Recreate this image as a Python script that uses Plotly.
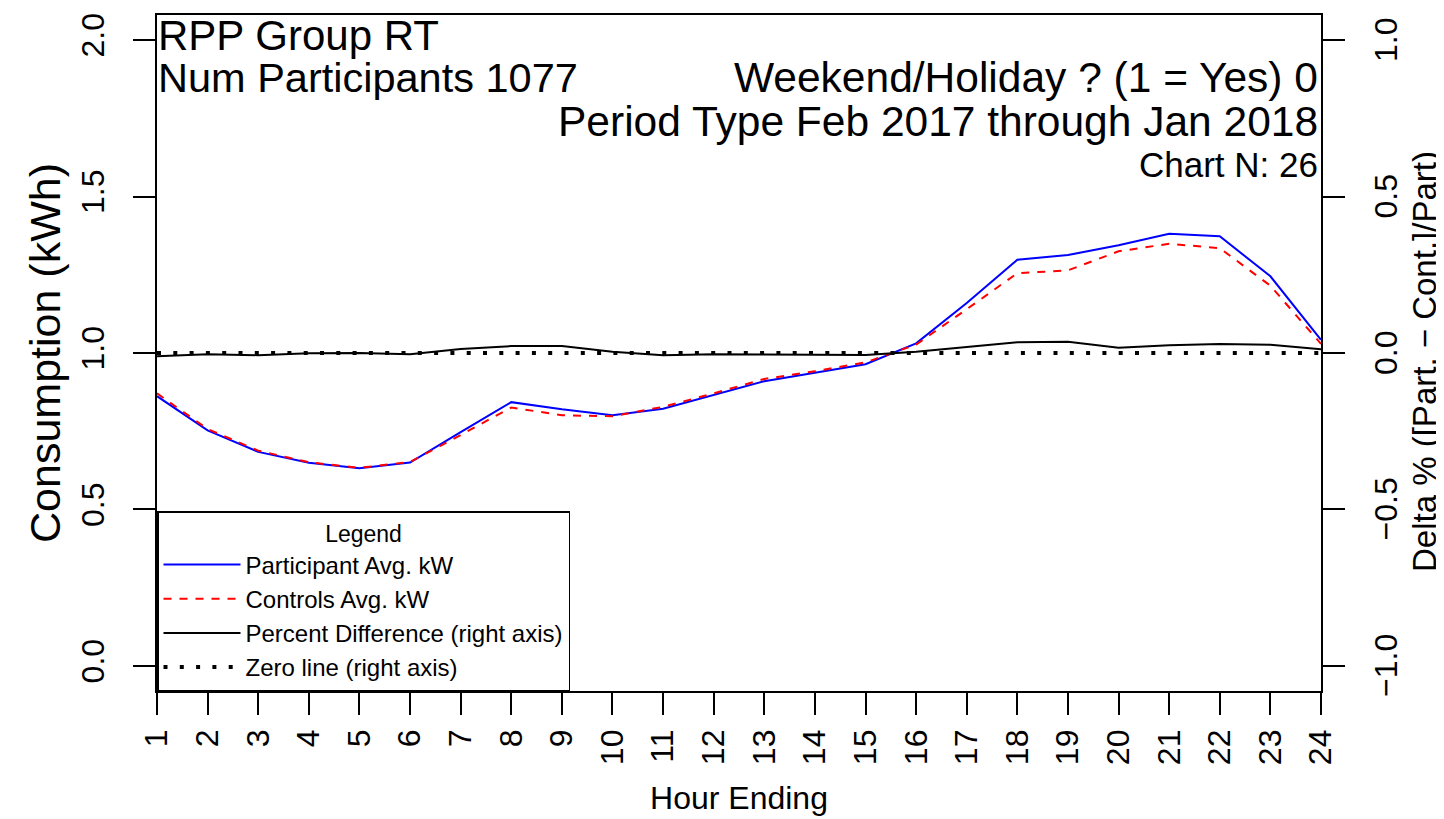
import plotly.graph_objects as go

# --- data ---
hours = list(range(1, 25))
participant_kw = [0.862, 0.753, 0.684, 0.649, 0.632, 0.650, 0.747, 0.843, 0.820, 0.801, 0.822, 0.865,
                  0.910, 0.937, 0.964, 1.031, 1.160, 1.298, 1.313, 1.344, 1.381, 1.373, 1.245, 1.042]
controls_kw = [0.871, 0.757, 0.688, 0.651, 0.633, 0.652, 0.738, 0.826, 0.801, 0.798, 0.828, 0.871,
               0.917, 0.942, 0.970, 1.027, 1.140, 1.255, 1.264, 1.325, 1.349, 1.335, 1.215, 1.029]
pct_diff = [-0.010, -0.004, -0.007, -0.001, 0.000, -0.004, 0.013, 0.022, 0.022, 0.004, -0.007, -0.004,
            -0.005, -0.005, -0.006, 0.004, 0.020, 0.034, 0.036, 0.017, 0.025, 0.029, 0.026, 0.012]
zero_line = [0.0] * len(hours)

left_ticks = [0.0, 0.5, 1.0, 1.5, 2.0]
right_ticks = [-1.0, -0.5, 0.0, 0.5, 1.0]

# page geometry (pixels); the page body adds an 8px margin around the figure
OFF = 8
PAGE_W, PAGE_H = 1444, 819
L, R, T, B = 157, 1321, 15, 691
W, H = PAGE_W - OFF, PAGE_H - OFF
FONT = "Liberation Sans, Arial, Helvetica, sans-serif"


def py(p):
    return (B - p) / (B - T)


def px_(p):
    return (p - L) / (R - L)


fig = go.Figure()
fig.add_trace(go.Scatter(x=hours, y=participant_kw, mode="lines", name="Participant Avg. kW",
                         line=dict(color="#0000ff", width=2)))
fig.add_trace(go.Scatter(x=hours, y=controls_kw, mode="lines", name="Controls Avg. kW",
                         line=dict(color="#ff0000", width=2, dash="8px,8px")))
fig.add_trace(go.Scatter(x=hours, y=pct_diff, mode="lines", name="Percent Difference (right axis)",
                         yaxis="y2", line=dict(color="black", width=2)))
fig.add_trace(go.Scatter(x=hours, y=zero_line, mode="lines", name="Zero line (right axis)",
                         yaxis="y2", line=dict(color="black", width=4, dash="4px,12.3px")))

axis_common = dict(showline=True, linecolor="black", linewidth=1.5, ticks="outside",
                   tickcolor="black", tickwidth=1.5, ticklen=22, showgrid=False, zeroline=False,
                   tickfont=dict(family=FONT, size=32, color="black"))

fig.update_layout(
    width=W, height=H,
    margin=dict(l=L - OFF, r=W - (R - OFF), t=T - OFF, b=H - (B - OFF), autoexpand=False),
    paper_bgcolor="white", plot_bgcolor="white",
    font=dict(family=FONT, color="black"),
    xaxis=dict(range=[1, 24], tickvals=hours, tickangle=-90, mirror=True,
               ticklabelstandoff=2,
               title=dict(text="Hour Ending", font=dict(size=32), standoff=22),
               **axis_common),
    yaxis=dict(range=[-0.08, 2.08], tickvals=left_ticks, ticktext=[f"{v:.1f}" for v in left_ticks],
               tickangle=-90, ticklabelstandoff=16,
               title=dict(text="Consumption (kWh)", font=dict(size=43), standoff=1),
               **axis_common),
    # right axis: ticks only, its labels are written below as rotated annotations
    yaxis2=dict(range=[-1.08, 1.08], tickvals=right_ticks, showticklabels=False,
                overlaying="y", side="right", **axis_common),
    legend=dict(x=0, y=0, xanchor="left", yanchor="bottom", bgcolor="white",
                bordercolor="black", borderwidth=1.5,
                font=dict(family=FONT, size=24, color="black"),
                title=dict(text="Legend", side="top center", font=dict(size=23)),
                itemwidth=77, tracegroupgap=0),
    showlegend=True,
)

for v in right_ticks:
    fig.add_annotation(text=f"{v:.1f}".replace("-", "\u2212"), xref="paper", yref="y2",
                       x=px_(1386), y=v, xanchor="center", yanchor="middle", textangle=-90,
                       showarrow=False, font=dict(family=FONT, size=32, color="black"))

fig.add_annotation(text="Delta % ([Part. \u2212 Cont.]/Part)", xref="paper", yref="paper",
                   x=px_(1424), y=py(362), xanchor="center", yanchor="middle", textangle=-90,
                   showarrow=False, font=dict(family=FONT, size=33, color="black"))

notes = [
    ("RPP Group RT", 157, 50, 42, "left"),
    ("Num Participants 1077", 157, 92, 41.5, "left"),
    ("Weekend/Holiday ? (1 = Yes) 0", 1319, 92, 42.5, "right"),
    ("Period Type Feb 2017 through Jan 2018", 1319, 136, 42.5, "right"),
    ("Chart N: 26", 1319, 177, 35, "right"),
]
for text, xpx, base, size, anchor in notes:
    fig.add_annotation(text=text, xref="paper", yref="paper", x=px_(xpx), y=py(base - 0.35 * size),
                       xanchor=anchor, yanchor="middle", showarrow=False,
                       font=dict(family=FONT, size=size, color="black"), borderpad=0)

fig.write_html("out.html")
